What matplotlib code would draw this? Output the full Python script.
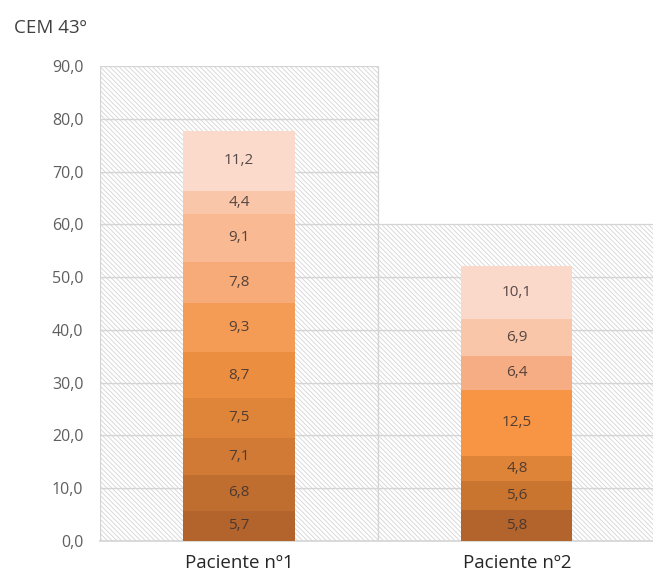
import matplotlib
matplotlib.use("Agg")
import matplotlib.pyplot as plt
import numpy as np
from matplotlib.ticker import FuncFormatter

# ---- data ----
title = "CEM 43º"
categories = ["Paciente nº1", "Paciente nº2"]
segments_p1 = [5.7, 6.8, 7.1, 7.5, 8.7, 9.3, 7.8, 9.1, 4.4, 11.2]
segments_p2 = [5.8, 5.6, 4.8, 12.5, 6.4, 6.9, 10.1]
background_max = [90, 60]
grid_step = 10
y_ticks = [0, 10, 20, 30, 40, 50, 60, 70, 80, 90]

# ---- styles ----
colors_p1 = ["#b2642c", "#c06e2f", "#d07a35", "#de853a", "#ec8e40",
             "#f49c55", "#f6ab78", "#f8b993", "#f9c6aa", "#fbdacb"]
colors_p2 = ["#b2642c", "#c9752f", "#dd8438", "#f89544", "#f7ad83",
             "#f9c6aa", "#fbd9ca"]

plt.rcParams['font.family'] = ['Open Sans', 'DejaVu Sans']
plt.rcParams['hatch.linewidth'] = 0.6
plt.rcParams['hatch.color'] = '#d0d0d0'

W, H = 653, 577
fig = plt.figure(figsize=(W / 100, H / 100), dpi=100)
ax = fig.add_axes([100 / W, 36 / H, 553 / W, 475 / H])

x = np.arange(len(categories))

# hatched background cells
for xi, top in zip(x, background_max):
    bottoms = np.arange(0, top, grid_step)
    ax.bar(np.full(len(bottoms), xi), grid_step, bottom=bottoms, width=1.0,
           facecolor='white', edgecolor='#d4d4d4', linewidth=0.9,
           hatch='\\' * 7, zorder=1)

# stacked bars
for xi, segs, cols in zip(x, [segments_p1, segments_p2], [colors_p1, colors_p2]):
    segs = np.array(segs)
    bottoms = np.concatenate([[0], np.cumsum(segs)[:-1]])
    bars = ax.bar(np.full(len(segs), xi), segs, bottom=bottoms, width=0.40,
                  color=cols, edgecolor='none', zorder=3)
    for rect, v in zip(bars, segs):
        ax.text(rect.get_x() + rect.get_width() / 2,
                rect.get_y() + rect.get_height() / 2,
                f"{v:.1f}".replace('.', ','), ha='center', va='center',
                fontsize=11, color='#3a3030', alpha=0.85, zorder=4)

ax.set_xlim(-0.5, 1.49)
ax.set_ylim(0, max(y_ticks))
ax.set_yticks(y_ticks)
ax.yaxis.set_major_formatter(FuncFormatter(lambda v, p: f"{v:.1f}".replace('.', ',')))
ax.set_xticks(x)
ax.set_xticklabels(categories)
ax.tick_params(axis='y', length=0, pad=12, labelsize=11.5, labelcolor='#5f5f5f')
ax.tick_params(axis='x', length=0, pad=9, labelsize=13.5, labelcolor='#262626')
for s in ['top', 'right', 'left']:
    ax.spines[s].set_visible(False)
ax.spines['bottom'].set_color('#d4d4d4')
ax.spines['bottom'].set_linewidth(1.2)
ax.patch.set_visible(False)

fig.text(14 / W, 1 - 28 / H, title, ha='left', va='center',
         fontsize=13.5, color='#404040')

fig.savefig("out.png", dpi=100, facecolor='white')
